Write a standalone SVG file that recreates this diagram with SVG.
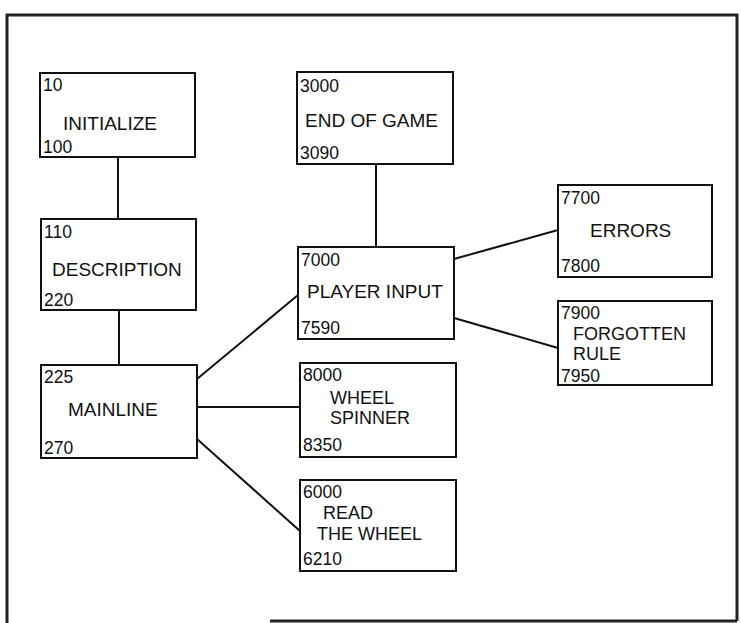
<svg xmlns="http://www.w3.org/2000/svg" width="741" height="623" viewBox="0 0 741 623">
<style>
.box{fill:#fff;stroke:#111;stroke-width:2}
.num{font-family:"Liberation Sans",Arial,sans-serif;font-size:17.5px;fill:#111}
.lbl{font-family:"Liberation Sans",Arial,sans-serif;font-size:19px;fill:#111}
.lbl2{font-family:"Liberation Sans",Arial,sans-serif;font-size:18px;fill:#111}
.con{stroke:#111;stroke-width:2;fill:none}
.frame{stroke:#222;stroke-width:3;fill:none}
</style>
<rect width="741" height="623" fill="#fff"/>
<g id="frame">
<path class="frame" d="M7,623 V15 H737 V621"/>
<path class="frame" d="M270,621 H737"/>
</g>
<g id="connectors">
<line class="con" x1="118" y1="157" x2="118" y2="219"/>
<line class="con" x1="119" y1="310" x2="119" y2="365"/>
<line class="con" x1="376" y1="164" x2="376" y2="247"/>
<line class="con" x1="197" y1="379" x2="298" y2="295"/>
<line class="con" x1="197" y1="407" x2="300" y2="407"/>
<line class="con" x1="197" y1="439" x2="300" y2="531"/>
<line class="con" x1="454" y1="259" x2="558" y2="230"/>
<line class="con" x1="454" y1="318" x2="558" y2="348"/>
</g>
<g id="initialize">
<rect class="box" x="40" y="73" width="155" height="84"/>
<text class="num" x="43" y="91">10</text>
<text class="lbl" x="63" y="130">INITIALIZE</text>
<text class="num" x="43" y="153">100</text>
</g>
<g id="description">
<rect class="box" x="41" y="219" width="155" height="91"/>
<text class="num" x="44" y="238">110</text>
<text class="lbl" x="52" y="276">DESCRIPTION</text>
<text class="num" x="44" y="306">220</text>
</g>
<g id="mainline">
<rect class="box" x="41" y="365" width="156" height="93"/>
<text class="num" x="44" y="383">225</text>
<text class="lbl" x="68" y="416">MAINLINE</text>
<text class="num" x="44" y="454">270</text>
</g>
<g id="endofgame">
<rect class="box" x="297" y="72" width="156" height="92"/>
<text class="num" x="300" y="92">3000</text>
<text class="lbl" x="305" y="127">END OF GAME</text>
<text class="num" x="300" y="159">3090</text>
</g>
<g id="playerinput">
<rect class="box" x="298" y="247" width="156" height="92"/>
<text class="num" x="301" y="266">7000</text>
<text class="lbl" x="307" y="298">PLAYER INPUT</text>
<text class="num" x="301" y="334">7590</text>
</g>
<g id="wheelspinner">
<rect class="box" x="300" y="363" width="156" height="94"/>
<text class="num" x="303" y="381">8000</text>
<text class="lbl2" x="330" y="404">WHEEL</text>
<text class="lbl2" x="330" y="424">SPINNER</text>
<text class="num" x="303" y="451">8350</text>
</g>
<g id="readthewheel">
<rect class="box" x="300" y="480" width="156" height="91"/>
<text class="num" x="303" y="498">6000</text>
<text class="lbl2" x="323" y="519">READ</text>
<text class="lbl2" x="317" y="540">THE WHEEL</text>
<text class="num" x="303" y="565">6210</text>
</g>
<g id="errors">
<rect class="box" x="558" y="185" width="154" height="92"/>
<text class="num" x="561" y="204">7700</text>
<text class="lbl" x="590" y="237">ERRORS</text>
<text class="num" x="561" y="272">7800</text>
</g>
<g id="forgottenrule">
<rect class="box" x="558" y="301" width="154" height="84"/>
<text class="num" x="561" y="319">7900</text>
<text class="lbl2" x="573" y="340">FORGOTTEN</text>
<text class="lbl2" x="573" y="360">RULE</text>
<text class="num" x="561" y="382">7950</text>
</g>
</svg>
